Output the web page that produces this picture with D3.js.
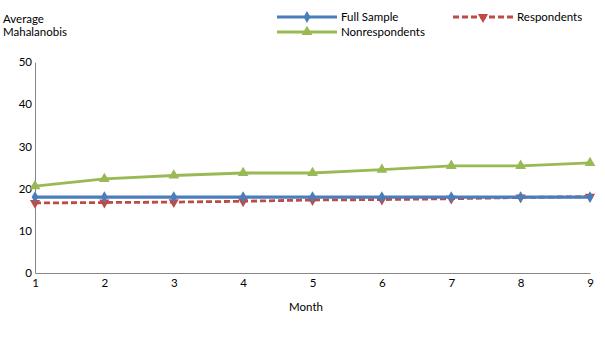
<!DOCTYPE html>
<html><head><meta charset="utf-8">
<script src="https://cdn.jsdelivr.net/npm/d3@7"></script>
<style>body{margin:0;background:#fff}svg{display:block}text{font-family:Lato,"Open Sans",sans-serif;fill:#000}</style>
</head><body><svg id="c" width="605" height="340"></svg>
<script>
const months = [1,2,3,4,5,6,7,8,9];
const fullSample = [18.0,18.0,18.0,18.0,18.0,18.0,18.0,18.0,18.0];
const respondents = [16.6,16.7,16.8,17.0,17.3,17.4,17.6,17.9,18.1];
const nonrespondents = [20.6,22.3,23.1,23.7,23.7,24.5,25.4,25.4,26.1];
const yTicks = [0,10,20,30,40,50];

const svg = d3.select("#c");
const x = d3.scaleLinear().domain([1,9]).range([35,590]);
const y = d3.scaleLinear().domain([0,50]).range([273,62]);

const axisColor = "#868686";
const yAxis = svg.append("g").attr("transform","translate(35,0)")
  .call(d3.axisLeft(y).tickValues(yTicks).tickSize(0).tickPadding(3));
yAxis.select(".domain").attr("stroke",axisColor);
yAxis.selectAll("text").style("font-size","11.5px").attr("font-family","Lato");
const xAxis = svg.append("g").attr("transform","translate(0,273)")
  .call(d3.axisBottom(x).tickValues(months).tickFormat(d3.format("d")).tickSize(0).tickPadding(6));
xAxis.select(".domain").attr("stroke",axisColor);
xAxis.selectAll("text").style("font-size","11.5px").attr("font-family","Lato");

const line = d3.line().x((d,i)=>x(months[i])).y(d=>y(d));

const series = [
  {name:"Full Sample", data:fullSample, color:"#4a7ebb", width:3.2, dash:null, marker:d3.symbolDiamond, rot:0, msize:40},
  {name:"Respondents", data:respondents, color:"#be4b48", width:2.8, dash:"6,3", marker:d3.symbolTriangle, rot:180, msize:45},
  {name:"Nonrespondents", data:nonrespondents, color:"#98b954", width:2.8, dash:null, marker:d3.symbolTriangle, rot:0, msize:50}
];
const order = [series[2], series[1], series[0]];
order.forEach(s=>{
  svg.append("path").attr("d",line(s.data)).attr("fill","none")
    .attr("stroke",s.color).attr("stroke-width",s.width).attr("stroke-dasharray",s.dash);
  svg.append("g").selectAll("path").data(s.data).join("path")
    .attr("transform",(d,i)=>`translate(${x(months[i])},${y(d)}) rotate(${s.rot})`)
    .attr("d",d3.symbol(s.marker,s.msize)()).attr("fill",s.color);
});

// legend
const leg = [
  {s:series[0], lx:277, ly:17},
  {s:series[1], lx:453, ly:17},
  {s:series[2], lx:277, ly:32}
];
leg.forEach(l=>{
  const s=l.s;
  svg.append("line").attr("x1",l.lx).attr("x2",l.lx+60).attr("y1",l.ly).attr("y2",l.ly)
    .attr("stroke",s.color).attr("stroke-width",s.width).attr("stroke-dasharray",s.dash);
  svg.append("path").attr("transform",`translate(${l.lx+30},${l.ly}) rotate(${s.rot})`)
    .attr("d",d3.symbol(s.marker,s.msize)()).attr("fill",s.color);
  svg.append("text").attr("x",l.lx+64).attr("y",l.ly+4).style("font-size","11.5px").text(s.name);
});

svg.append("text").attr("x",3).attr("y",23).style("font-size","11.5px").text("Average");
svg.append("text").attr("x",3).attr("y",36).style("font-size","11.5px").text("Mahalanobis");
svg.append("text").attr("x",306).attr("y",311).attr("text-anchor","middle").style("font-size","11.5px").text("Month");
</script></body></html>
